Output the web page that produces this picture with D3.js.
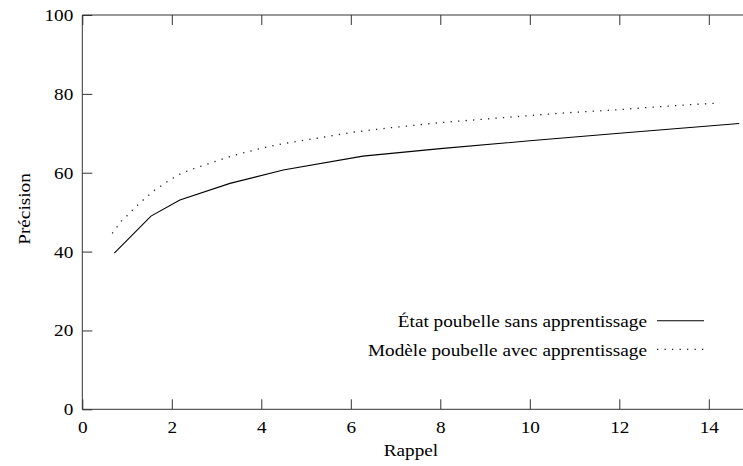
<!DOCTYPE html>
<html>
<head>
<meta charset="utf-8">
<script src="https://cdn.jsdelivr.net/npm/d3@7"></script>
<style>
  html, body { margin: 0; padding: 0; background: #fff; }
  svg text { font-family: "Liberation Serif", "DejaVu Serif", serif; fill: #000; }
</style>
</head>
<body>
<svg id="chart" width="743" height="466"></svg>
<script>
// Data
const xTicks = [0, 2, 4, 6, 8, 10, 12, 14];
const yTicks = [0, 20, 40, 60, 80, 100];
const seriesNames = ["État poubelle sans apprentissage", "Modèle poubelle avec apprentissage"];
const solidX = [0.715, 1.535, 2.18, 3.30, 4.49, 6.27, 8.0, 10.0, 12.0, 14.68];
const solidY = [39.6, 49.0, 53.1, 57.3, 60.7, 64.2, 66.1, 68.1, 70.0, 72.5];
const dottedX = [0.67, 0.78, 0.89, 1.0, 1.12, 1.36, 1.62, 1.92, 2.22, 2.56, 2.85, 3.19, 3.49, 4.0, 4.5, 5.16, 6.0, 6.88, 8.0, 8.88, 10.0, 10.82, 12.0, 12.69, 13.5, 14.25];
const dottedY = [44.6, 46.3, 48.0, 49.1, 50.5, 53.1, 55.6, 57.9, 59.9, 61.3, 62.4, 63.7, 64.7, 66.2, 67.4, 68.6, 70.2, 71.4, 72.7, 73.5, 74.5, 75.2, 76.0, 76.6, 77.2, 77.7];

(function () {
const svg = d3.select("#chart");
const FS = 17, STRETCH = 1.13;
const mLeft = 82.3, mTop = 15, mBottom = 409.3;
const xs = d3.scaleLinear().domain([0, 15]).range([mLeft, mLeft + 15 * 44.75]);
const ys = d3.scaleLinear().domain([0, 100]).range([mBottom, mTop]);
const mRight = xs(15);

function stretch(sel) {
  sel.each(function () {
    const L = this.getComputedTextLength();
    this.setAttribute("textLength", (L * STRETCH).toFixed(2));
    this.setAttribute("lengthAdjust", "spacingAndGlyphs");
  });
}

const frameColor = "#333";
svg.append("path")
  .attr("d", `M${mLeft},${mTop}H${mRight}V${mBottom}H${mLeft}Z`)
  .attr("fill", "none").attr("stroke", frameColor).attr("stroke-width", 1);

const xAxisB = svg.append("g").attr("transform", `translate(0,${mBottom})`)
  .call(d3.axisBottom(xs).tickValues(xTicks).tickSize(-10).tickPadding(12).tickFormat(d3.format("d")));
const xAxisT = svg.append("g").attr("transform", `translate(0,${mTop})`)
  .call(d3.axisTop(xs).tickValues(xTicks).tickSize(-10).tickFormat(""));
const yAxisL = svg.append("g").attr("transform", `translate(${mLeft},0)`)
  .call(d3.axisLeft(ys).tickValues(yTicks).tickSize(-10).tickPadding(9).tickFormat(d3.format("d")));
const yAxisR = svg.append("g").attr("transform", `translate(${mRight},0)`)
  .call(d3.axisRight(ys).tickValues(yTicks).tickSize(-10).tickFormat(""));

[xAxisB, xAxisT, yAxisL, yAxisR].forEach(g => {
  g.select(".domain").remove();
  g.selectAll(".tick line").attr("stroke", frameColor).attr("stroke-width", 1);
  g.selectAll("text").attr("font-size", FS).attr("fill", "#000")
    .style("font-family", '"Liberation Serif", serif');
  stretch(g.selectAll("text"));
});

stretch(svg.append("text").attr("x", 411).attr("y", 456).attr("text-anchor", "middle")
  .attr("font-size", FS).text("Rappel"));
stretch(svg.append("text").attr("transform", "translate(30,209) rotate(-90)")
  .attr("text-anchor", "middle").attr("font-size", FS).text("Précision"));

const line = d3.line().x(d => xs(d[0])).y(d => ys(d[1]));
const solid = solidX.map((v, i) => [v, solidY[i]]);
const dotted = dottedX.map((v, i) => [v, dottedY[i]]);

svg.append("path").datum(solid).attr("d", line)
  .attr("fill", "none").attr("stroke", "#000").attr("stroke-width", 1.1);
svg.append("path").datum(dotted).attr("d", line)
  .attr("fill", "none").attr("stroke", "#222").attr("stroke-width", 1.3)
  .attr("stroke-dasharray", "1.3,6.2");

const legY = [320.7, 349.3];
const styles = [{dash: null, w: 1.1, c: "#000"}, {dash: "1.3,6.2", w: 1.3, c: "#222"}];
seriesNames.forEach((name, i) => {
  stretch(svg.append("text").attr("x", 647).attr("y", legY[i] + 6.5).attr("text-anchor", "end")
    .attr("font-size", FS).text(name));
  const l = svg.append("line").attr("x1", 657).attr("x2", 704).attr("y1", legY[i]).attr("y2", legY[i])
    .attr("stroke", styles[i].c).attr("stroke-width", styles[i].w);
  if (styles[i].dash) l.attr("stroke-dasharray", styles[i].dash);
});
})();
</script>
</body>
</html>
